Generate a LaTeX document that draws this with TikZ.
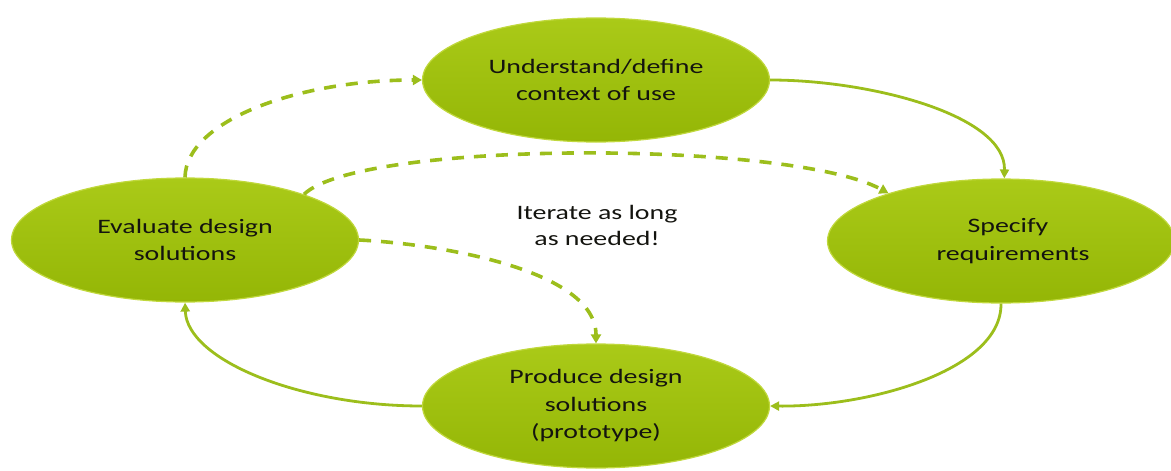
\documentclass[tikz,border=0pt]{standalone}
\usepackage{fontspec}
\setmainfont{Carlito}[FakeStretch=1.36]
\usetikzlibrary{shapes.geometric,arrows.meta}
\definecolor{elltop}{RGB}{170,202,24}
\definecolor{ellbot}{RGB}{148,182,6}
\definecolor{ellrim}{RGB}{192,216,60}
\definecolor{linegreen}{RGB}{156,190,28}
\definecolor{txt}{RGB}{20,20,15}
\begin{document}
\begin{tikzpicture}[x=1pt,y=-1pt,
  phase/.style={ellipse, inner sep=0pt, minimum width=347pt, minimum height=124pt,
    top color=elltop, bottom color=ellbot, draw=ellrim, line width=1.2pt,
    align=center, text=txt, font=\fontsize{20.5}{27.5}\selectfont},
  flow/.style={draw=linegreen, line width=2.8pt, -{Triangle[length=9pt,width=9pt]}},
  loopback/.style={draw=linegreen, line width=3.6pt, dash pattern=on 12pt off 10pt,
    -{Triangle[length=9pt,width=10pt]}},
  note/.style={text=txt, align=center, font=\fontsize{20.5}{26}\selectfont}]
\useasboundingbox (0,0) rectangle (1171,471);
\node[phase] (ctx) at (596,80) {Understand/define\\context of use};
\node[phase] (req) at (1001,241) {\hspace*{14pt}Specify\\\hspace*{24pt}requirements};
\node[phase] (prod) at (596,406) {Produce design\\solutions\\(prototype)};
\node[phase] (eval) at (185,240) {Evaluate design\\solutions};
\node[note] (iter) at (597,225) {Iterate as long\\as needed!};
% solid cycle
\draw[flow] (ctx.east) .. controls (870,80) and (1006,115) .. (req.87);
\draw[flow] (req.south) .. controls (1002,370) and (870,407) .. (prod.east);
\draw[flow] (prod.west) .. controls (300,406) and (187,360) .. (eval.south);
% dashed iterations
\draw[loopback] (eval.north) .. controls (186,120) and (300,80) .. (ctx.west);
\draw[loopback] (eval.21) .. controls (360,140) and (790,140) .. (req.157);
\draw[loopback] (eval.east) .. controls (440,244) and (596,270) .. (prod.north);
\end{tikzpicture}
\end{document}
